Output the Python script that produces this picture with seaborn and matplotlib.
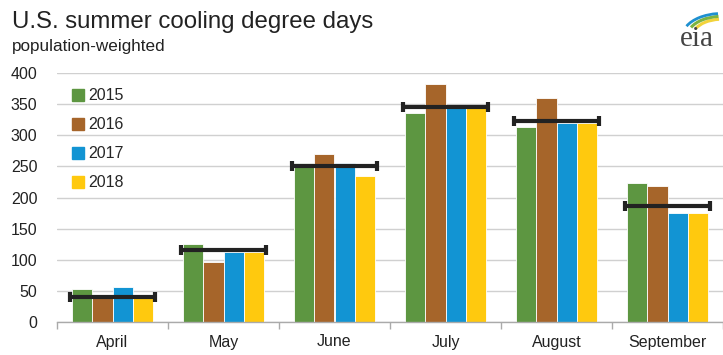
import matplotlib
matplotlib.use("Agg")
import matplotlib.pyplot as plt
import seaborn as sns
import pandas as pd
import numpy as np
from matplotlib.patches import Arc
from matplotlib.lines import Line2D

months = ["April", "May", "June", "July", "August", "September"]
years = ["2015", "2016", "2017", "2018"]
v2015 = [53, 125, 255, 335, 314, 223]
v2016 = [40, 97, 270, 382, 360, 218]
v2017 = [56, 113, 256, 344, 320, 175]
v2018 = [40, 113, 234, 344, 320, 175]
normal = [40, 115, 250, 346, 323, 187]
colors = ["#5D9641", "#A6652A", "#1294D3", "#FFC90E"]
yticks = [0, 50, 100, 150, 200, 250, 300, 350, 400]

rows = []
for y, vals in zip(years, [v2015, v2016, v2017, v2018]):
    for m, v in zip(months, vals):
        rows.append({"month": m, "year": y, "value": v})
df = pd.DataFrame(rows)

sns.set_theme(style="white")
plt.rcParams['font.family'] = ['Liberation Sans', 'DejaVu Sans']

fig = plt.figure(figsize=(7.23, 3.55), dpi=100)
ax = fig.add_axes([57/723, 33/355, 1 - 57/723, (322-73)/355])

sns.barplot(data=df, x="month", y="value", hue="year", order=months,
            hue_order=years, palette=colors, saturation=1, width=0.73, gap=0,
            edgecolor="white", linewidth=0.6, ax=ax, zorder=3, legend=False)

xs = np.arange(len(months))
ax.hlines(normal, xs - 0.385, xs + 0.385, color="#222222", linewidth=3, zorder=5)
ax.plot(xs - 0.385, normal, marker="|", markersize=7, markeredgewidth=3,
        color="#222222", linestyle="none", zorder=6)
ax.plot(xs + 0.385, normal, marker="|", markersize=7, markeredgewidth=3,
        color="#222222", linestyle="none", zorder=6)

ax.set_ylim(0, 400)
ax.set_xlim(-0.5, len(months) - 0.5)
ax.set_yticks(yticks)
ax.set_yticklabels([str(t) for t in yticks], fontsize=11.5, color="#222222")
ax.tick_params(axis="y", length=0, pad=14)
ax.set_xticks(xs)
ax.set_xticklabels(months, fontsize=11.5, color="#222222")
ax.tick_params(axis="x", which="major", length=0, pad=9)
ax.set_xticks(np.arange(-0.5, len(months)), minor=True)
ax.tick_params(axis="x", which="minor", length=5, color="#aaaaaa", width=1, bottom=True)
ax.set_xlabel("")
ax.set_ylabel("")
ax.grid(axis="y", color="#d0d0d0", linewidth=1, zorder=0)
ax.set_axisbelow(True)
for s in ["top", "right", "left"]:
    ax.spines[s].set_visible(False)
ax.spines["bottom"].set_color("#aaaaaa")
ax.spines["bottom"].set_linewidth(1)
ax.spines["bottom"].set_zorder(7)

handles = [Line2D([0], [0], marker="s", color="none", markerfacecolor=c,
                  markeredgecolor=c, markersize=8) for c in colors]
ax.legend(handles, years, loc="upper left", bbox_to_anchor=(0.015, 0.965),
          frameon=False, fontsize=11.5, handlelength=0.6, handletextpad=0.3,
          labelspacing=0.88, borderaxespad=0)

fig.text(12/723, 1 - 22/355, "U.S. summer cooling degree days", fontsize=17.3,
         color="#222222", va="center", ha="left")
fig.text(12/723, 1 - 46/355, "population-weighted", fontsize=12.3,
         color="#222222", va="center", ha="left")

# eia logo
fig.text(697/723, 1 - 39/355, "eia", fontsize=21, family="Liberation Serif",
         color="#444444", ha="center", va="center")
lax = fig.add_axes([678/723, 1 - 30/355, 42/723, 20/355])
lax.set_xlim(0, 1); lax.set_ylim(0, 1); lax.axis("off")
for c, r, w in [("#F2D33B", 0.7, 2.2), ("#7CB342", 0.82, 2.2), ("#1E90D0", 0.94, 2)]:
    lax.add_patch(Arc((1.05, -0.3), 2 * r, 2.4 * r, theta1=95, theta2=150,
                      color=c, linewidth=w))

fig.savefig("out.png", dpi=100)
